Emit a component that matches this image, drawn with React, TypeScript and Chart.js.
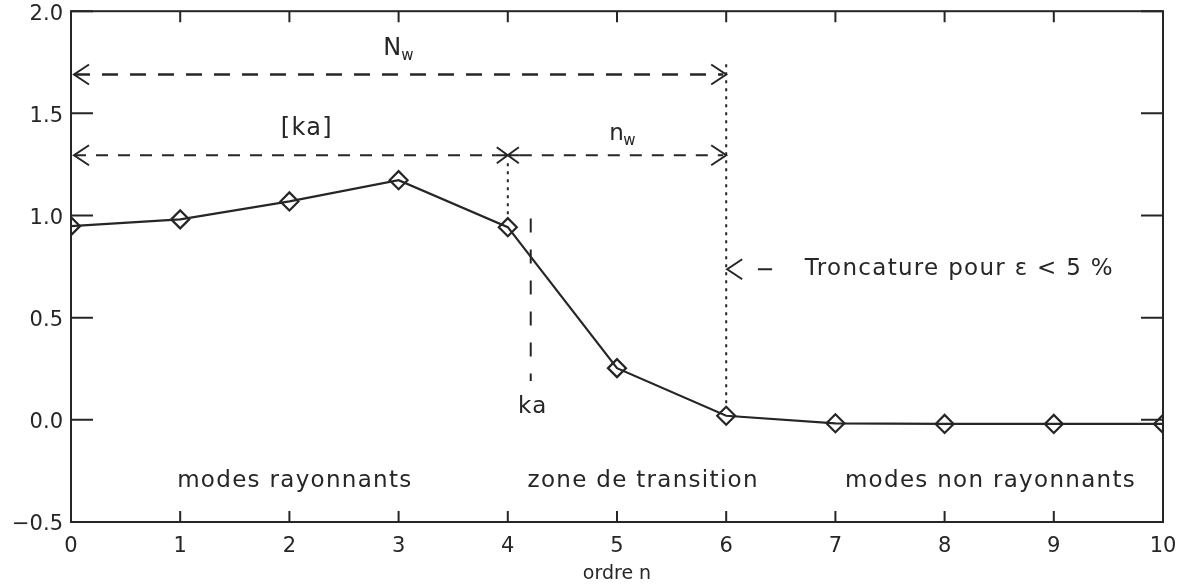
import React, { useEffect, useRef } from 'react';
import { Chart, registerables } from 'chart.js';

Chart.register(...registerables);

// ---- data ----
const orders = [0, 1, 2, 3, 4, 5, 6, 7, 8, 9, 10];
const values = [0.948, 0.981, 1.069, 1.173, 0.943, 0.253, 0.02, -0.017, -0.02, -0.02, -0.02];
const xTickValues = [0, 1, 2, 3, 4, 5, 6, 7, 8, 9, 10];
const yTickValues = [-0.5, 0, 0.5, 1.0, 1.5, 2.0];

// annotation levels (data units)
const nwLevel = 1.69;
const kaLevel = 1.295;
const kaOrder = 4; // [ka]
const kaExact = 4.21; // ka
const truncOrder = 6;
const truncLevel = 0.737;

const regionLabels = ['modes rayonnants', 'zone de transition', 'modes non rayonnants'];
const regionCenters = [2.05, 5.24, 8.42];
const regionBaseline = -0.328;

const INK = '#262626';
const FAMILY = '"DejaVu Sans", "Liberation Sans", sans-serif';

const annotPlugin = {
  id: 'annot',
  afterDraw(chart: any) {
    const ctx: CanvasRenderingContext2D = chart.ctx;
    const xs = chart.scales.x;
    const ys = chart.scales.y;
    const a = chart.chartArea;
    const X = (v: number) => xs.getPixelForValue(v);
    const Y = (v: number) => ys.getPixelForValue(v);
    ctx.save();
    ctx.strokeStyle = INK;
    ctx.fillStyle = INK;
    ctx.lineWidth = 2;
    ctx.lineCap = 'butt';

    // frame
    ctx.setLineDash([]);
    ctx.strokeRect(a.left, a.top, a.right - a.left, a.bottom - a.top);

    // inward ticks
    ctx.beginPath();
    for (const t of xTickValues) {
      const px = X(t);
      ctx.moveTo(px, a.bottom);
      ctx.lineTo(px, a.bottom - 11);
      ctx.moveTo(px, a.top);
      ctx.lineTo(px, a.top + 11);
    }
    for (const t of yTickValues) {
      const py = Y(t);
      ctx.moveTo(a.left, py);
      ctx.lineTo(a.left + 22, py);
      ctx.moveTo(a.right, py);
      ctx.lineTo(a.right - 22, py);
    }
    ctx.stroke();

    const arrow = (tipX: number, tipY: number, dir: number) => {
      ctx.setLineDash([]);
      ctx.beginPath();
      ctx.moveTo(tipX - dir * 15, tipY - 10);
      ctx.lineTo(tipX, tipY);
      ctx.lineTo(tipX - dir * 15, tipY + 10);
      ctx.stroke();
    };

    // N_w dashed arrow
    ctx.lineWidth = 2.5;
    ctx.setLineDash([16, 12]);
    ctx.beginPath();
    ctx.moveTo(X(0) + 3, Y(nwLevel));
    ctx.lineTo(X(truncOrder) - 3, Y(nwLevel));
    ctx.stroke();
    ctx.lineWidth = 2;
    arrow(X(0) + 3, Y(nwLevel), -1);
    arrow(X(truncOrder), Y(nwLevel), 1);

    // [ka] / n_w dashed arrow
    ctx.lineWidth = 2;
    ctx.setLineDash([12, 10]);
    ctx.beginPath();
    ctx.moveTo(X(0) + 3, Y(kaLevel));
    ctx.lineTo(X(kaOrder) - 12, Y(kaLevel));
    ctx.moveTo(X(kaOrder) + 12, Y(kaLevel));
    ctx.lineTo(X(truncOrder) - 3, Y(kaLevel));
    ctx.stroke();
    arrow(X(0) + 3, Y(kaLevel), -1);
    arrow(X(truncOrder), Y(kaLevel), 1);

    // asterisk at [ka]
    ctx.setLineDash([]);
    ctx.beginPath();
    const ax = X(kaOrder), ay = Y(kaLevel);
    ctx.moveTo(ax - 11, ay - 8); ctx.lineTo(ax + 11, ay + 8);
    ctx.moveTo(ax - 11, ay + 8); ctx.lineTo(ax + 11, ay - 8);
    ctx.moveTo(ax - 12, ay); ctx.lineTo(ax + 12, ay);
    ctx.stroke();

    // dotted verticals
    ctx.lineWidth = 2;
    ctx.setLineDash([3, 5]);
    ctx.beginPath();
    ctx.moveTo(X(kaOrder), Y(kaLevel) + 8);
    ctx.lineTo(X(kaOrder), Y(values[4]) - 9);
    ctx.moveTo(X(truncOrder), Y(1.74));
    ctx.lineTo(X(truncOrder), Y(values[6]) - 9);
    ctx.stroke();

    // dashed ka vertical
    ctx.setLineDash([14, 17]);
    ctx.beginPath();
    ctx.moveTo(X(kaExact), Y(0.985));
    ctx.lineTo(X(kaExact), Y(0.19));
    ctx.stroke();

    // troncature arrow
    ctx.lineWidth = 2;
    arrow(X(truncOrder) + 1, Y(truncLevel), -1);
    ctx.beginPath();
    ctx.moveTo(X(6.29), Y(truncLevel));
    ctx.lineTo(X(6.42), Y(truncLevel));
    ctx.stroke();

    // texts
    (ctx as any).letterSpacing = '1.3px';
    ctx.font = `23px ${FAMILY}`;
    ctx.textAlign = 'left';
    ctx.textBaseline = 'middle';
    ctx.fillText('Troncature pour \u03b5 < 5 %', X(6.72), Y(truncLevel));

    ctx.textBaseline = 'alphabetic';
    ctx.textAlign = 'center';
    regionLabels.forEach((t, i) => {
      ctx.fillText(t, X(regionCenters[i]), Y(regionBaseline));
    });
    ctx.fillText('ka', X(4.23), Y(0.033));
    ctx.font = `24px ${FAMILY}`;
    ctx.textBaseline = 'middle';
    ctx.fillText('[ka]', X(2.16), Y(1.426));

    // N_w
    (ctx as any).letterSpacing = '0px';
    ctx.textBaseline = 'alphabetic';
    ctx.textAlign = 'left';
    ctx.font = `24px ${FAMILY}`;
    const nx = X(2.86);
    ctx.fillText('N', nx, Y(1.787));
    ctx.font = `15px ${FAMILY}`;
    ctx.fillText('w', nx + 18, Y(1.76));
    // n_w
    ctx.font = `23px ${FAMILY}`;
    const mx = X(4.93);
    ctx.fillText('n', mx, Y(1.368));
    ctx.font = `15px ${FAMILY}`;
    ctx.fillText('w', mx + 14, Y(1.344));

    ctx.restore();
  },
};

export default function App() {
  const ref = useRef<HTMLCanvasElement | null>(null);
  useEffect(() => {
    document.body.style.margin = '0';
    const canvas = ref.current;
    if (!canvas) return;
    const fmt = (v: number) => {
      const s = Number(v).toFixed(1);
      return s.startsWith('-') ? '\u2212' + s.slice(1) : s;
    };
    const chart = new Chart(canvas, {
      type: 'line',
      data: {
        datasets: [
          {
            data: orders.map((o, i) => ({ x: o, y: values[i] })),
            borderColor: INK,
            borderWidth: 2.2,
            pointStyle: 'rectRot',
            pointRadius: 9,
            pointHoverRadius: 9,
            pointBorderWidth: 2.2,
            pointBorderColor: INK,
            pointBackgroundColor: 'rgba(0,0,0,0)',
            tension: 0,
            fill: false,
            clip: 0,
          } as any,
        ],
      },
      options: {
        responsive: false,
        animation: false,
        devicePixelRatio: 1,
        events: [],
        layout: { padding: { left: 0, top: 9, right: 19, bottom: 0 } },
        plugins: { legend: { display: false }, tooltip: { enabled: false } },
        scales: {
          x: {
            type: 'linear',
            min: 0,
            max: 10,
            afterBuildTicks: (s: any) => {
              s.ticks = xTickValues.map((v) => ({ value: v }));
            },
            grid: { display: false, drawTicks: false },
            border: { display: false },
            ticks: {
              font: { family: FAMILY, size: 21 },
              color: INK,
              padding: 12,
              maxRotation: 0,
              autoSkip: false,
              callback: (v: any) => String(v),
            },
            title: {
              display: true,
              text: 'ordre n',
              font: { family: FAMILY, size: 19 },
              color: INK,
              padding: { top: 0, bottom: 3 },
            },
            afterFit: (s: any) => {
              s.height = 66;
              s.paddingLeft = 0;
              s.paddingRight = 0;
            },
          },
          y: {
            type: 'linear',
            min: -0.5,
            max: 2.0,
            afterBuildTicks: (s: any) => {
              s.ticks = yTickValues.map((v) => ({ value: v }));
            },
            grid: { display: false, drawTicks: false },
            border: { display: false },
            ticks: {
              font: { family: FAMILY, size: 21 },
              color: INK,
              padding: 8,
              labelOffset: 3,
              autoSkip: false,
              callback: (v: any) => fmt(v),
            },
            afterFit: (s: any) => {
              s.width = 71;
              s.paddingTop = 0;
              s.paddingBottom = 0;
            },
          },
        },
      } as any,
      plugins: [annotPlugin],
    });
    return () => chart.destroy();
  }, []);
  return (
    <div style={{ width: 1182, height: 588, background: '#fff' }}>
      <canvas ref={ref} width={1182} height={588} style={{ display: 'block' }} />
    </div>
  );
}
